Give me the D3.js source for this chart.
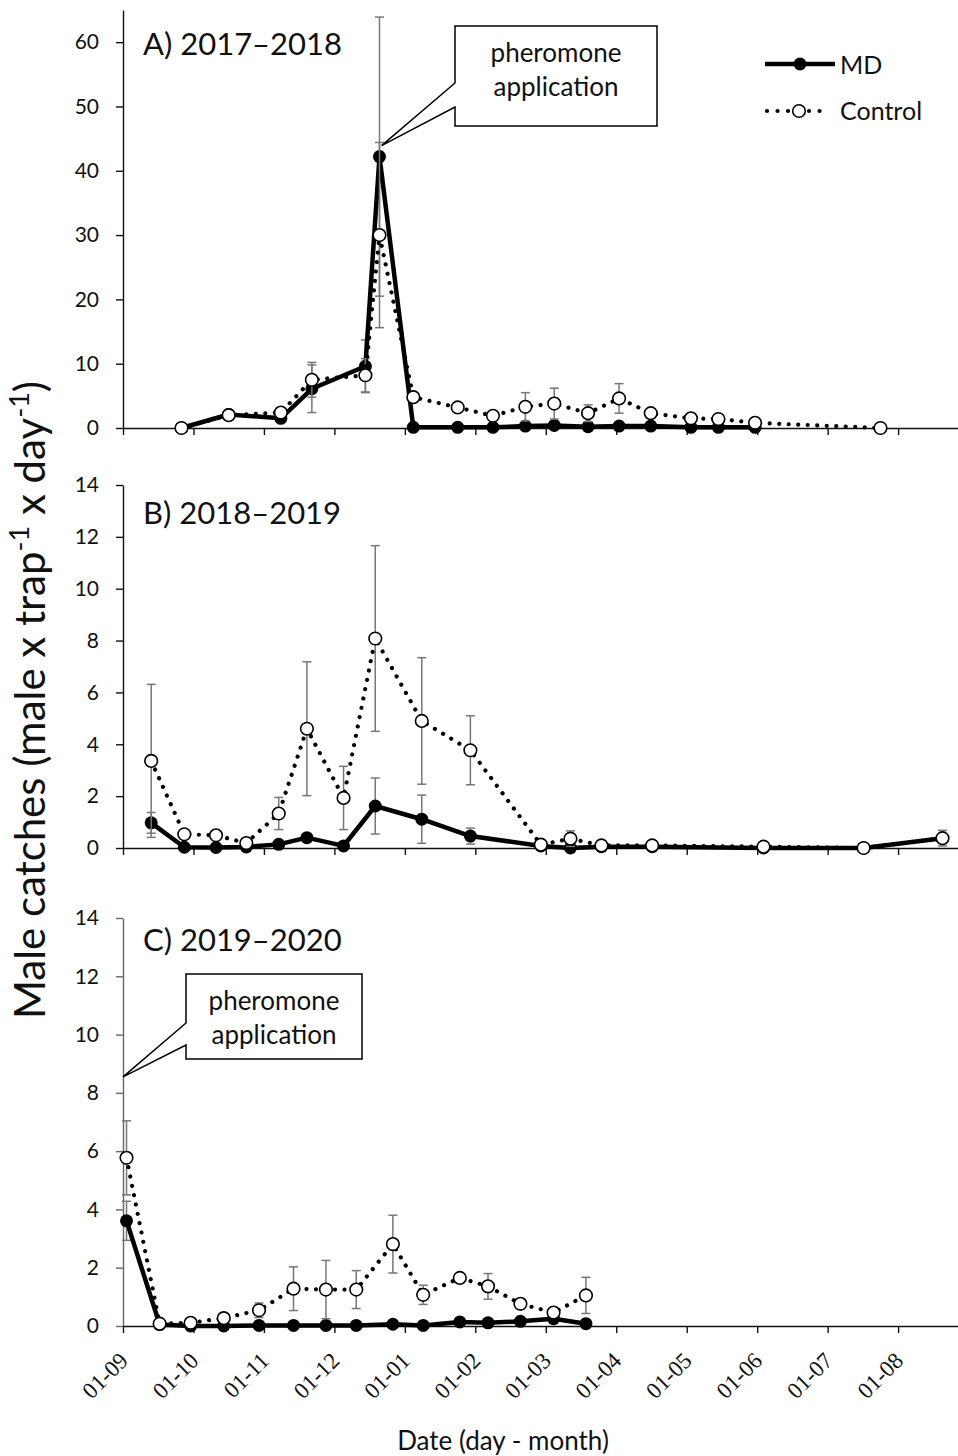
<!DOCTYPE html>
<html>
<head>
<meta charset="utf-8">
<script src="https://cdnjs.cloudflare.com/ajax/libs/d3/7.8.5/d3.min.js"></script>
<style>
    body { margin: 0; background: #fff; }
    svg { display: block; }
</style>
</head>
<body>
<div id="container"></div>
<script>
// x values are months after 01-09 (start of the season)
const monthLabels = ['01-09', '01-10', '01-11', '01-12', '01-01', '01-02', '01-03',
    '01-04', '01-05', '01-06', '01-07', '01-08'];

// A) 2017-2018
const monthsA = [0.83, 1.50, 2.24, 2.68, 3.44, 3.64, 4.12, 4.75, 5.25, 5.71, 6.12, 6.60, 7.04, 7.49, 8.06, 8.45, 8.97, 10.75];
const mdA = [0.0, 2.1, 1.5, 6.1, 9.6, 42.2, 0.1, 0.1, 0.1, 0.3, 0.4, 0.2, 0.3, 0.3, 0.1, 0.1, 0.1, null];
const mdErrA = [null, null, null, 3.7, 4.1, 21.7, null, null, null, null, null, null, null, null, null, null, null, null];
const ctrlA = [0.0, 2.0, 2.4, 7.5, 8.2, 30.0, 4.8, 3.2, 1.9, 3.3, 3.8, 2.3, 4.6, 2.3, 1.5, 1.4, 0.8, 0.0];
const ctrlErrA = [null, null, null, 2.7, 2.6, 14.4, null, null, null, 2.2, 2.4, 1.3, 2.3, null, null, null, null, null];

// B) 2018-2019
const monthsB = [0.40, 0.87, 1.32, 1.75, 2.21, 2.61, 3.13, 3.58, 4.24, 4.93, 5.93, 6.35, 6.79, 7.51, 9.09, 10.51, 11.63];
const mdB = [0.97, 0.03, 0.02, 0.04, 0.14, 0.40, 0.08, 1.62, 1.11, 0.46, 0.08, 0.0, 0.05, 0.05, 0.0, 0.0, 0.38];
const mdErrB = [0.40, null, null, null, null, null, null, 1.08, 0.93, 0.31, null, null, null, null, null, null, null];
const ctrlB = [3.36, 0.53, 0.49, 0.19, 1.33, 4.60, 1.93, 8.08, 4.90, 3.77, 0.13, 0.36, 0.10, 0.10, 0.05, 0.0, 0.38];
const ctrlErrB = [2.95, null, null, null, 0.62, 2.58, 1.22, 3.58, 2.44, 1.33, null, 0.30, null, null, null, null, 0.30];

// C) 2019-2020
const monthsC = [0.05, 0.52, 0.96, 1.43, 1.93, 2.42, 2.88, 3.31, 3.83, 4.26, 4.78, 5.18, 5.64, 6.11, 6.57];
const mdC = [3.61, 0.05, 0.0, 0.0, 0.02, 0.02, 0.02, 0.02, 0.06, 0.02, 0.14, 0.11, 0.16, 0.25, 0.08];
const mdErrC = [0.67, null, null, null, null, null, null, null, null, null, null, null, null, null, null];
const ctrlC = [5.77, 0.08, 0.11, 0.27, 0.54, 1.28, 1.25, 1.25, 2.81, 1.07, 1.65, 1.36, 0.76, 0.46, 1.05];
const ctrlErrC = [1.27, null, null, null, 0.25, 0.75, 1.00, 0.65, 0.99, 0.33, null, 0.44, 0.17, null, 0.62];

const ticksA = [0, 10, 20, 30, 40, 50, 60];
const ticksBC = [0, 2, 4, 6, 8, 10, 12, 14];

window.addEventListener('DOMContentLoaded', (event) => {

    const svg = d3.select('#container')
        .append('svg')
        .attr('width', 958)
        .attr('height', 1456);

    const font = 'Lato, "Open Sans", sans-serif';

    const x = d3.scaleLinear().domain([0, 11.85]).range([123, 958]);

    const panels = [
        { title: 'A) 2017–2018', titleY: 55, months: monthsA, md: mdA, mdErr: mdErrA, ctrl: ctrlA, ctrlErr: ctrlErrA,
          y: d3.scaleLinear().domain([0, 65]).range([428, 10]), ticks: ticksA, axisColor: '#111', last: false },
        { title: 'B) 2018–2019', titleY: 524, months: monthsB, md: mdB, mdErr: mdErrB, ctrl: ctrlB, ctrlErr: ctrlErrB,
          y: d3.scaleLinear().domain([0, 14]).range([848, 485]), ticks: ticksBC, axisColor: '#111', last: false },
        { title: 'C) 2019–2020', titleY: 951, months: monthsC, md: mdC, mdErr: mdErrC, ctrl: ctrlC, ctrlErr: ctrlErrC,
          y: d3.scaleLinear().domain([0, 14]).range([1326, 918]), ticks: ticksBC, axisColor: '#666', last: true }
    ];

    panels.forEach(p => {
        const g = svg.append('g');
        const y = p.y;

        // y axis
        const yAxis = g.append('g')
            .attr('transform', 'translate(123,0)')
            .call(d3.axisLeft(y).tickValues(p.ticks).tickSize(7).tickSizeOuter(0).tickPadding(17));
        yAxis.selectAll('path, line').attr('stroke', p.axisColor).attr('stroke-width', 1.4);
        yAxis.selectAll('text')
            .attr('font-family', font)
            .attr('font-size', 21)
            .attr('fill', '#111');

        // x axis
        const xAxis = g.append('g')
            .attr('transform', `translate(0,${y(0)})`)
            .call(d3.axisBottom(x).tickValues(d3.range(12)).tickSize(7).tickSizeOuter(0)
                .tickFormat(i => p.last ? monthLabels[i] : ''));
        xAxis.selectAll('path, line').attr('stroke', '#111').attr('stroke-width', 1.4);
        xAxis.selectAll('text')
            .attr('x', 0).attr('y', 0).attr('dy', 0)
            .attr('transform', 'translate(6,36) rotate(-45)')
            .attr('text-anchor', 'end')
            .attr('font-family', '"Liberation Serif", serif')
            .attr('font-size', 23)
            .attr('fill', '#111');

        // panel title
        g.append('text')
            .attr('x', 143)
            .attr('y', p.titleY)
            .attr('font-family', font)
            .attr('font-size', 31)
            .attr('fill', '#111')
            .text(p.title);

        const drawSeries = (vals, errs, dotted) => {
            const pts = p.months.map((m, i) => ({ m: m, v: vals[i], e: errs[i] }))
                .filter(d => d.v !== null);

            // error bars
            const eb = g.append('g').attr('stroke', '#777').attr('stroke-width', 1.5);
            pts.filter(d => d.e !== null).forEach(d => {
                const lo = y(Math.max(0, d.v - d.e));
                const hi = y(d.v + d.e);
                const cx = x(d.m);
                eb.append('line').attr('x1', cx).attr('x2', cx).attr('y1', lo).attr('y2', hi);
                eb.append('line').attr('x1', cx - 4.5).attr('x2', cx + 4.5).attr('y1', lo).attr('y2', lo);
                eb.append('line').attr('x1', cx - 4.5).attr('x2', cx + 4.5).attr('y1', hi).attr('y2', hi);
            });

            const line = d3.line().x(d => x(d.m)).y(d => y(d.v));
            const path = g.append('path')
                .datum(pts)
                .attr('d', line)
                .attr('fill', 'none')
                .attr('stroke', '#000');
            if (dotted) {
                path.attr('stroke-width', 4.2)
                    .attr('stroke-linecap', 'round')
                    .attr('stroke-dasharray', '0.01 9.5');
            } else {
                path.attr('stroke-width', 4.5)
                    .attr('stroke-linejoin', 'round');
            }

            g.selectAll(null)
                .data(pts)
                .enter()
                .append('circle')
                .attr('cx', d => x(d.m))
                .attr('cy', d => y(d.v))
                .attr('r', dotted ? 6.3 : 6.5)
                .attr('fill', dotted ? '#fff' : '#000')
                .attr('stroke', '#000')
                .attr('stroke-width', dotted ? 1.6 : 0);
        };

        drawSeries(p.md, p.mdErr, false);
        drawSeries(p.ctrl, p.ctrlErr, true);
    });

    // callouts
    const callout = (tipX, tipY, bx0, by0, bx1, by1, ty0, ty1) => {
        svg.append('path')
            .attr('d', `M${bx0},${by0} H${bx1} V${by1} H${bx0} V${ty1} L${tipX},${tipY} L${bx0},${ty0} Z`)
            .attr('fill', '#fff')
            .attr('stroke', '#000')
            .attr('stroke-width', 1.5);
        const cx = (bx0 + bx1) / 2;
        svg.append('text')
            .attr('x', cx).attr('y', by0 + 36)
            .attr('text-anchor', 'middle')
            .attr('font-family', font).attr('font-size', 26).attr('fill', '#111')
            .text('pheromone');
        svg.append('text')
            .attr('x', cx).attr('y', by0 + 70)
            .attr('text-anchor', 'middle')
            .attr('font-family', font).attr('font-size', 26).attr('fill', '#111')
            .text('application');
    };
    const yA = panels[0].y, yC = panels[2].y;
    callout(x(3.67), yA(43.9), 455, 26, 657, 126, 83, 107);
    callout(x(0), yC(8.55), 186, 974, 362, 1059, 1023, 1045);

    // legend
    const lg = svg.append('g');
    lg.append('line').attr('x1', 765).attr('x2', 835).attr('y1', 64).attr('y2', 64)
        .attr('stroke', '#000').attr('stroke-width', 4.5);
    lg.append('circle').attr('cx', 800).attr('cy', 64).attr('r', 6.5).attr('fill', '#000');
    lg.append('text').attr('x', 840).attr('y', 74)
        .attr('font-family', font).attr('font-size', 25).attr('fill', '#111').text('MD');
    lg.append('line').attr('x1', 767).attr('x2', 830).attr('y1', 111).attr('y2', 111)
        .attr('stroke', '#000').attr('stroke-width', 4.2)
        .attr('stroke-linecap', 'round').attr('stroke-dasharray', '0.01 10.5');
    lg.append('circle').attr('cx', 799).attr('cy', 111).attr('r', 6.3)
        .attr('fill', '#fff').attr('stroke', '#000').attr('stroke-width', 1.6);
    lg.append('text').attr('x', 840).attr('y', 120)
        .attr('font-family', font).attr('font-size', 25).attr('fill', '#111').text('Control');

    // axis titles
    const yt = svg.append('text')
        .attr('transform', 'translate(45,700) rotate(-90)')
        .attr('text-anchor', 'middle')
        .attr('font-family', font)
        .attr('font-size', 42)
        .attr('fill', '#111');
    yt.append('tspan').text('Male catches (male x trap');
    yt.append('tspan').attr('baseline-shift', 'super').attr('font-size', 27).text('-1');
    yt.append('tspan').text(' x day');
    yt.append('tspan').attr('baseline-shift', 'super').attr('font-size', 27).text('-1');
    yt.append('tspan').text(')');

    svg.append('text')
        .attr('x', 503)
        .attr('y', 1450)
        .attr('text-anchor', 'middle')
        .attr('font-family', font)
        .attr('font-size', 26)
        .attr('fill', '#111')
        .text('Date (day - month)');

}); // end of document ready
</script>
</body>
</html>
